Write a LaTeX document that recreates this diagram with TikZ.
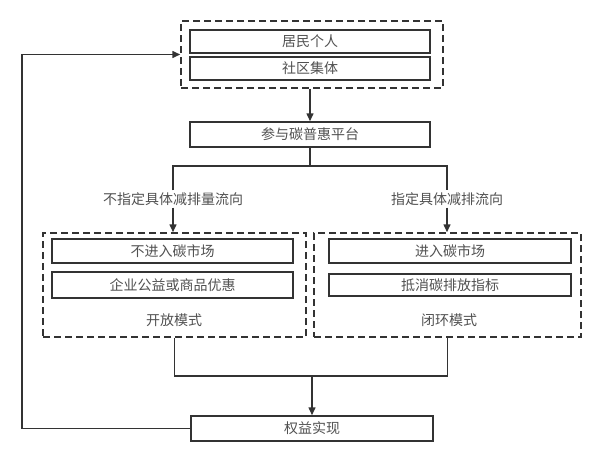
\documentclass[tikz,border=0pt]{standalone}
\usepackage{fontspec}
\usepackage{xcolor}
\usepackage{tikz}
\usetikzlibrary{arrows.meta, positioning}
\newfontfamily\cjkfont{Noto Sans CJK SC}
\definecolor{linegray}{RGB}{51,51,51}
\definecolor{textgray}{RGB}{80,80,80}
\tikzset{
  box/.style={rectangle, draw=linegray, line width=1.5pt, minimum width=240pt,
    minimum height=24pt, inner sep=0pt, text=textgray,
    font=\cjkfont\fontsize{14}{16}\selectfont},
  dashbox/.style={rectangle, draw=linegray, line width=1.5pt, inner sep=0pt,
    dash pattern=on 7pt off 4pt},
  flowlabel/.style={text=textgray, inner sep=2pt,
    font=\cjkfont\fontsize{14}{16}\selectfont},
  arrow/.style={-{Triangle[length=8pt, width=7pt]}, line width=1.5pt, draw=linegray},
  link/.style={line width=1.5pt, draw=linegray},
}
\begin{document}
\begin{tikzpicture}[x=1pt, y=-1pt]
  \useasboundingbox (0,0) rectangle (599,463);

  %% participants
  \node[dashbox, minimum width=262pt, minimum height=67pt] (top) at (312, 54.5) {};
  \node[box, minimum height=23pt] (resident) at (310, 41.5) {居民个人};
  \node[box, minimum height=23pt] (community) at (310, 68.5) {社区集体};

  %% platform
  \node[box, minimum height=25pt] (platform) at (310, 134.5) {参与碳普惠平台};
  \draw[arrow] (top.south -| platform) -- (platform.north);

  %% branches
  \coordinate (split) at (310, 166);
  \node[flowlabel] (unspec) at (173, 199) {不指定具体减排量流向};
  \node[flowlabel] (spec) at (447, 199) {指定具体减排流向};
  \draw[link] (platform.south) -- (split);
  \draw[link] (unspec.north) -- (unspec.north |- split)
    -- (spec.north |- split) -- (spec.north);

  %% open mode
  \node[dashbox, minimum width=263pt, minimum height=104pt] (openbox) at (174.5, 285) {};
  \node[box, minimum width=241pt] (nomarket) at (172.5, 251) {不进入碳市场};
  \node[box, minimum width=241pt, minimum height=26pt] (discount) at (172.5, 285) {企业公益或商品优惠};
  \node[flowlabel] (openlabel) at (174, 320) {开放模式};
  \draw[arrow] (unspec.south) -- (unspec.south |- openbox.north);

  %% closed mode
  \node[dashbox, minimum width=267pt, minimum height=104pt] (closedbox) at (447.5, 285) {};
  \node[box, minimum width=242pt] (market) at (450, 251) {进入碳市场};
  \node[box, minimum width=242pt, minimum height=22pt] (offset) at (450, 285) {抵消碳排放指标};
  \node[flowlabel] (closedlabel) at (449, 320) {闭环模式};
  \draw[arrow] (spec.south) -- (spec.south |- closedbox.north);

  %% benefit
  \coordinate (merge) at (312, 376);
  \node[box, minimum width=242pt, minimum height=25pt] (benefit) at (312, 428.5) {权益实现};
  \draw[link] (openbox.south) -- (openbox.south |- merge)
    -- (closedbox.south |- merge) -- (closedbox.south);
  \draw[arrow] (merge) -- (benefit.north);

  %% feedback
  \coordinate (loop) at (22, 0);
  \draw[arrow] (benefit.west) -- (benefit.west -| loop) -- (loop |- top.west) -- (top.west);

\end{tikzpicture}
\end{document}
